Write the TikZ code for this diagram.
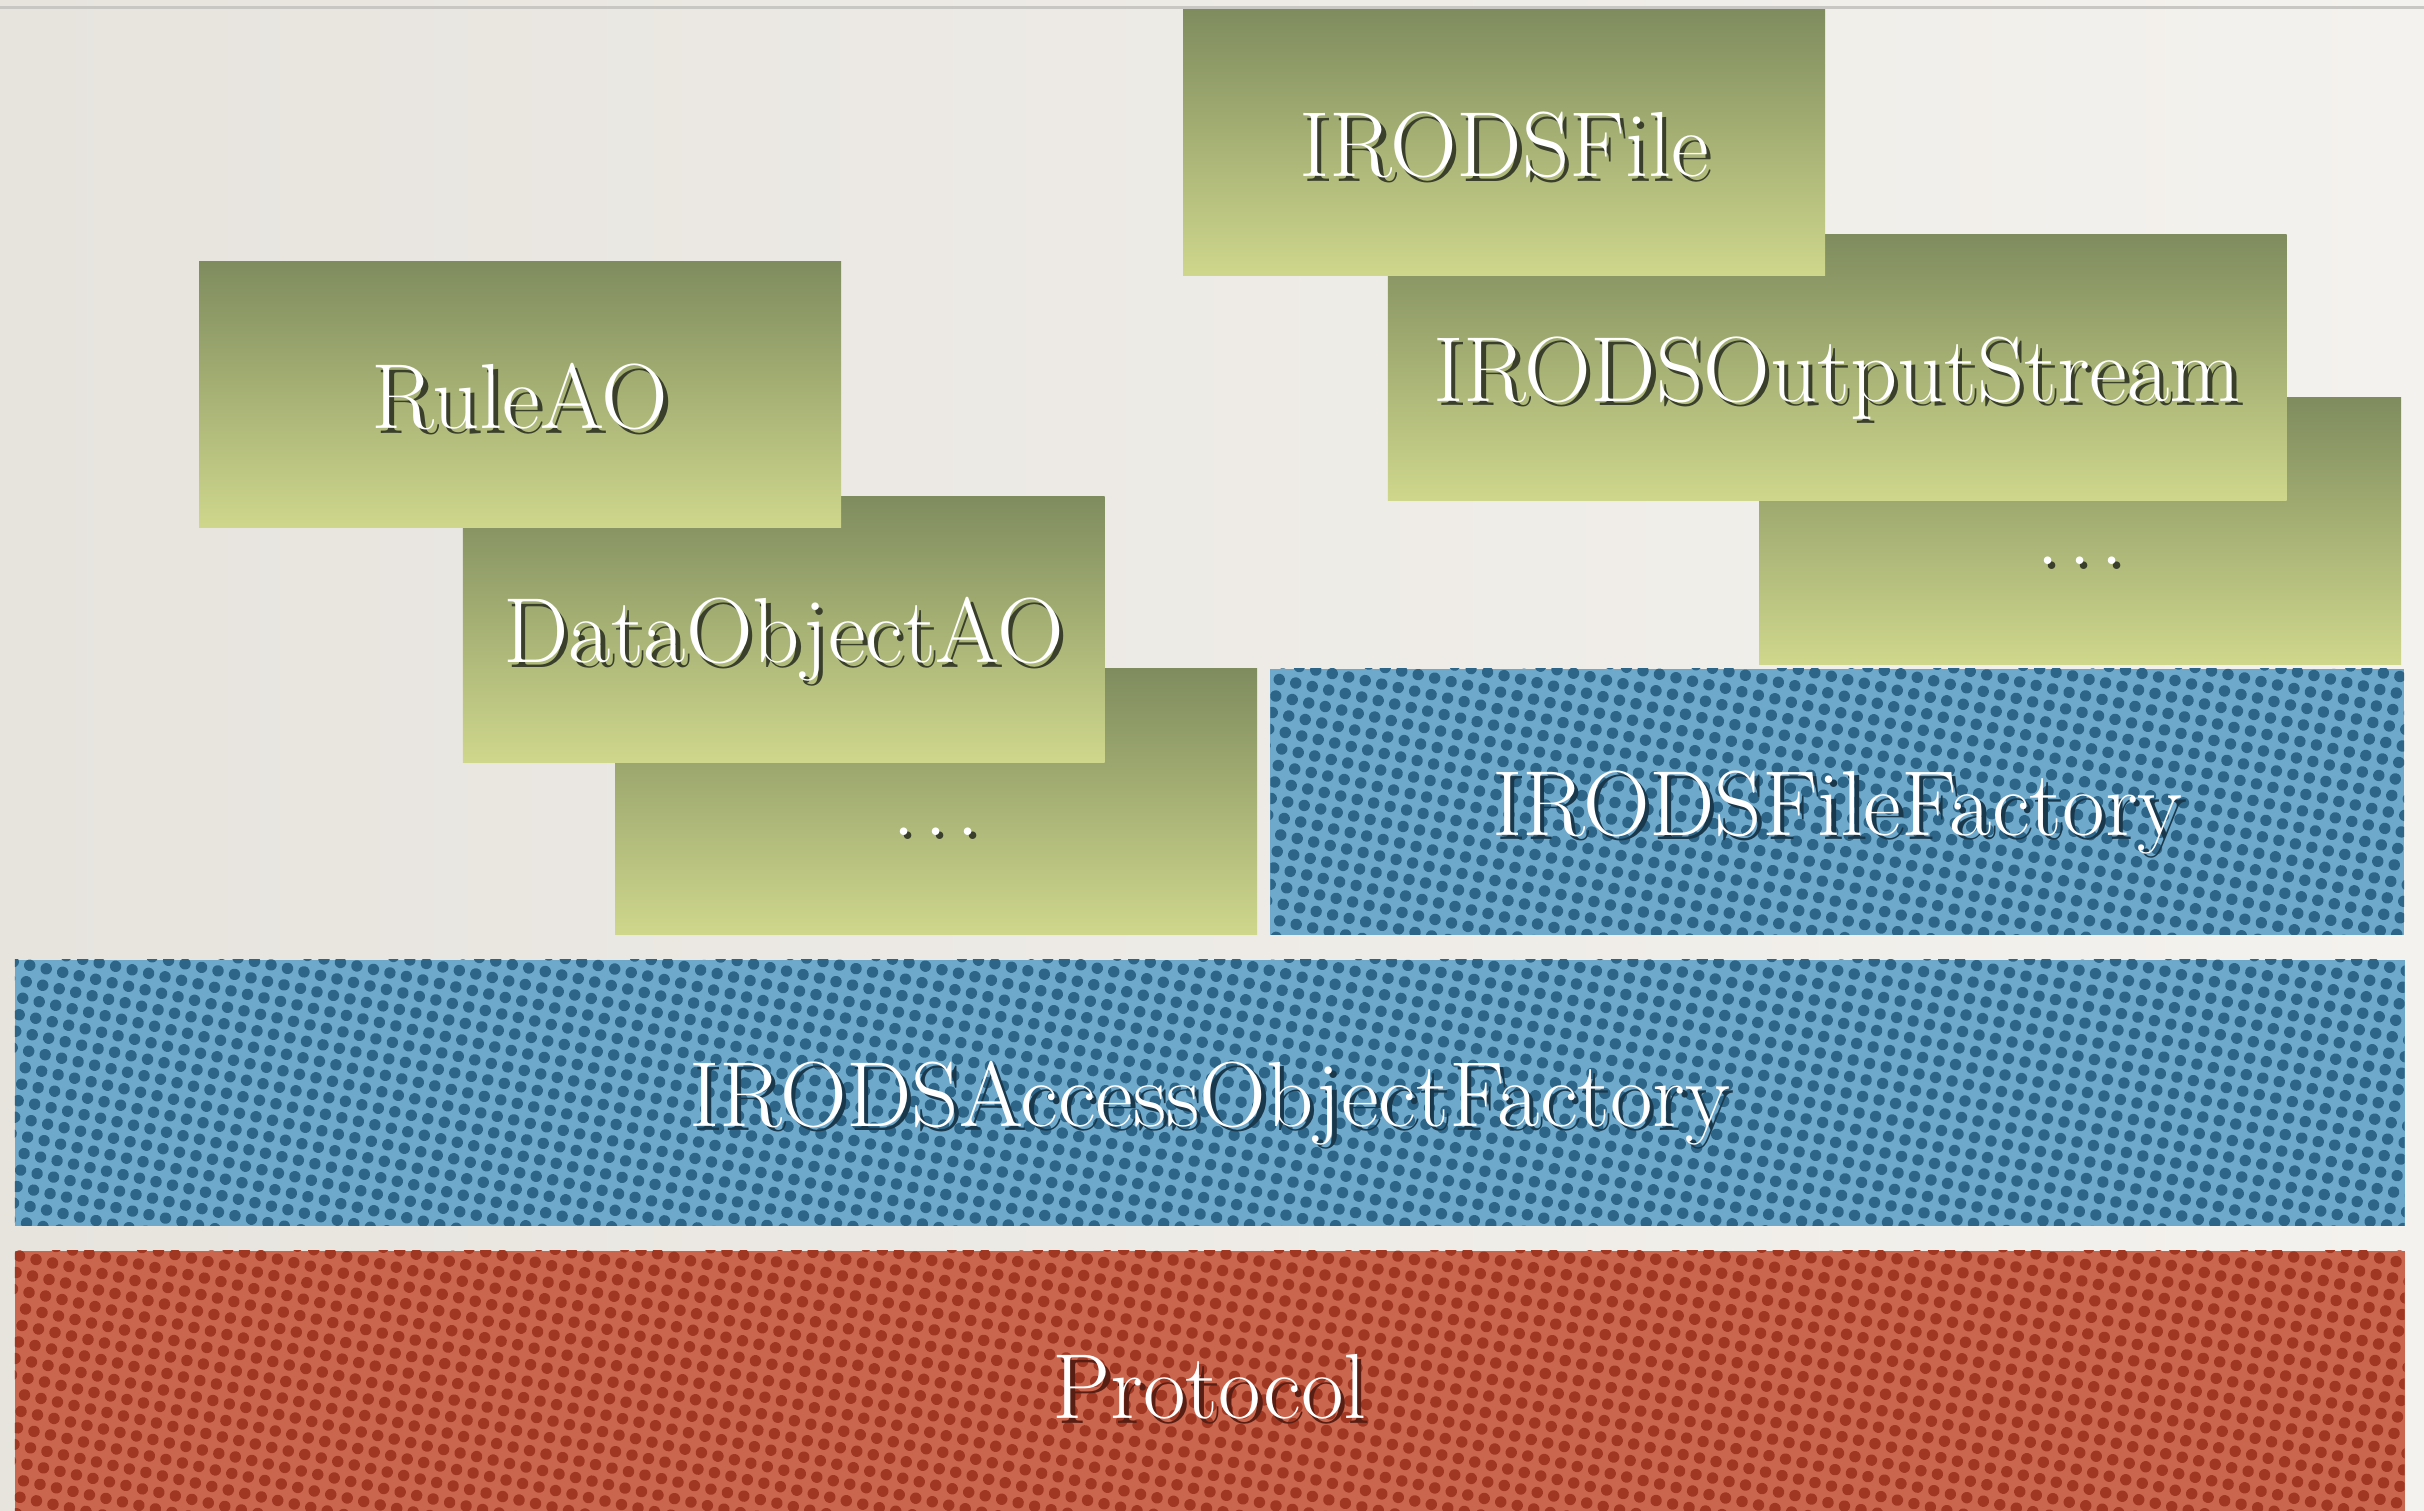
\documentclass[tikz,border=0pt]{standalone}
\usetikzlibrary{patterns.meta}
\definecolor{gtop}{HTML}{7F8C5E}
\definecolor{gbot}{HTML}{CFD78C}
\definecolor{bbase}{HTML}{6EA8CA}
\definecolor{bdot}{HTML}{2D6588}
\definecolor{rbase}{HTML}{CA654E}
\definecolor{rdot}{HTML}{A03723}
\definecolor{bgl}{HTML}{E7E4DE}
\definecolor{bgr}{HTML}{F4F2EE}
\definecolor{rulec}{HTML}{C9C7C3}
\colorlet{shc}{black!75}
\newcommand\shtext[1]{\rlap{\kern0.8pt\raisebox{-0.8pt}{\textcolor{shc}{#1}}}#1}
\newcommand\spdots{.\kern1.7pt.\kern1.7pt.}
\begin{document}
\begin{tikzpicture}[x=0.01cm,y=-0.01cm,
  base/.style={rectangle, inner sep=0pt, outer sep=0pt, draw=none, text=white,
    font=\fontsize{17}{20}\selectfont, text height=12.4pt, text depth=0pt, minimum height=1.72cm},
  gbox/.style={base, top color=gtop, bottom color=gbot, minimum width=4.15cm,
    execute at begin node={\colorlet{shc}{gtop!45!black}}},
  bbox/.style={base, fill=bbase, postaction={pattern={Dots[distance=3.1pt,radius=1.05pt,angle=-12]}, pattern color=bdot},
    execute at begin node={\colorlet{shc}{bdot!55!black}}},
  rbox/.style={base, fill=rbase, postaction={pattern={Dots[distance=3.1pt,radius=1.05pt,angle=-12]}, pattern color=rdot},
    execute at begin node={\colorlet{shc}{rdot!55!black}}}]
\fill[left color=bgl, right color=bgr] (0,0) rectangle (1568,977);
\useasboundingbox (0,0) rectangle (1568,977);
\coordinate (ruleL) at (0,5);
\coordinate (ruleR) at (1568,5);
\draw[rulec, line width=0.5pt] (ruleL) -- (ruleR);
% right stack
\node[gbox] (dotsR) at (1345.5,343.5) {\shtext{\spdots}};
\node[gbox, minimum width=5.81cm] (ostream) at (1188.5,238) {\shtext{IRODSOutputStream}};
\node[gbox] (file) at (973,92.5) {\shtext{IRODSFile}};
% left stack
\node[gbox] (dotsL) at (605.5,518.5) {\shtext{\spdots}};
\node[gbox] (dataobj) at (507,407) {\shtext{DataObjectAO}};
\node[gbox] (rule) at (336.5,255.5) {\shtext{RuleAO}};
% factories
\node[bbox, minimum width=7.33cm] (filefac) at (1188.5,518.5) {\shtext{IRODSFileFactory}};
\node[bbox, minimum width=15.45cm] (aof) at (782.5,707) {\shtext{IRODSAccessObjectFactory}};
\node[rbox, minimum width=15.45cm, minimum height=1.74cm] (proto) at (782.5,896) {\shtext{Protocol}};
\end{tikzpicture}
\end{document}
